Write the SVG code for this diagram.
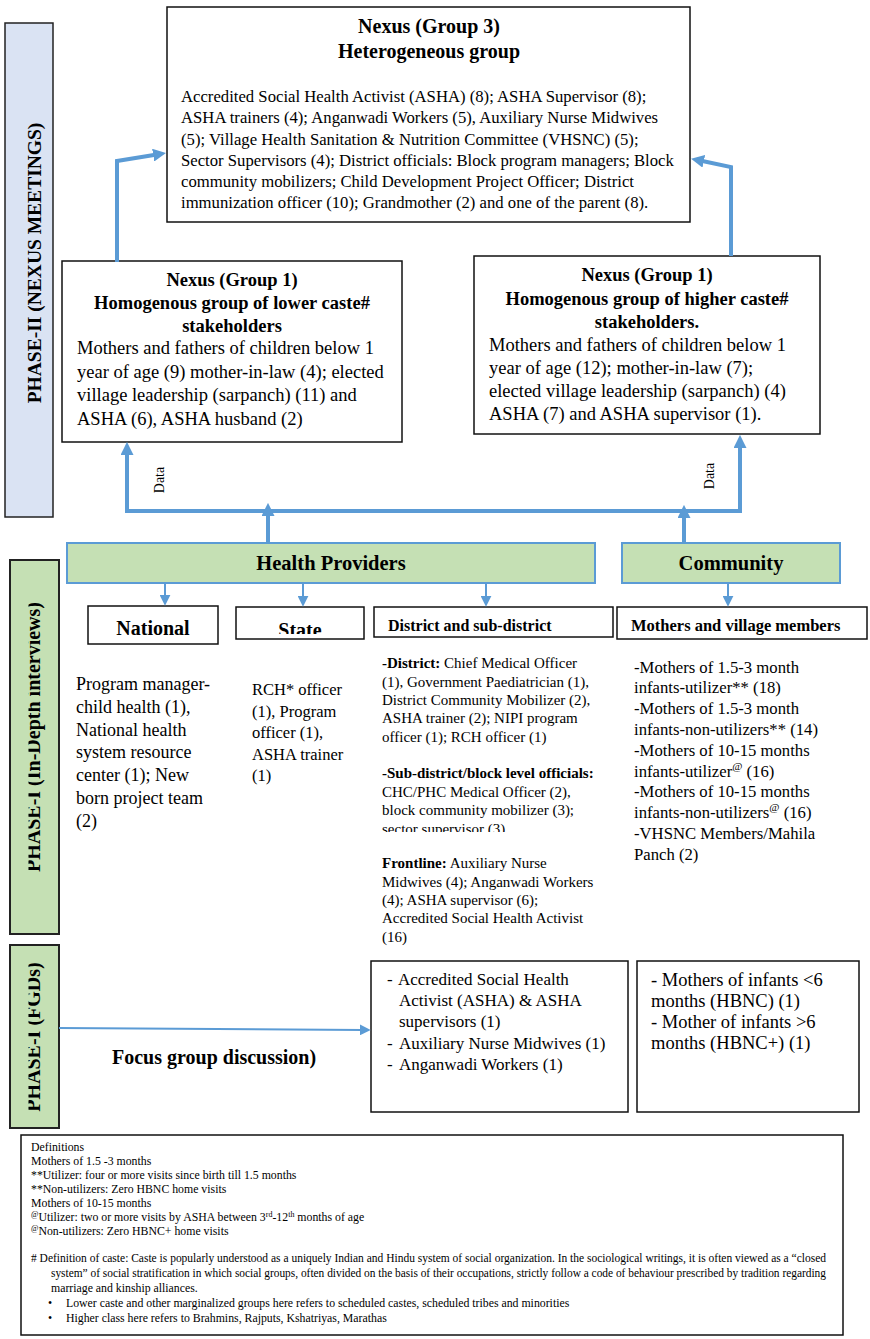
<svg xmlns="http://www.w3.org/2000/svg" width="870" height="1339" viewBox="0 0 870 1339">
<style>
.t{font-family:"Liberation Serif","Times New Roman",serif;fill:#000}
.b{font-weight:bold}
.box{fill:#fff;stroke:#111;stroke-width:1.5}
.ph2{fill:#dae3f3;stroke:#222;stroke-width:1.5}
.ph1{fill:#c5e0b4;stroke:#222;stroke-width:2}
.grn{fill:#c5e0b4;stroke:#5b9bd5;stroke-width:2}
.c{fill:none;stroke:#5b9bd5;stroke-linejoin:miter}
.thk{stroke-width:4}
.thn{stroke-width:2}
.mid{text-anchor:middle}
</style>
<defs>
<marker id="ah" viewBox="0 0 10 10" refX="3" refY="5" markerWidth="13" markerHeight="13" markerUnits="userSpaceOnUse" orient="auto-start-reverse"><path d="M0,0 L10,5 L0,10 z" fill="#5b9bd5"/></marker>
<marker id="as" viewBox="0 0 10 10" refX="3" refY="5" markerWidth="11" markerHeight="11" markerUnits="userSpaceOnUse" orient="auto-start-reverse"><path d="M0,0 L10,5 L0,10 z" fill="#5b9bd5"/></marker>
<clipPath id="clipPh1"><rect x="28.5" y="540" width="40" height="600"/></clipPath>
<clipPath id="clipState"><rect x="236" y="607" width="128" height="27"/></clipPath>
<clipPath id="clipSub"><rect x="370" y="750" width="250" height="82"/></clipPath>
</defs>

<g id="phase2-label">
<rect class="ph2" x="5" y="23" width="48" height="494"/>
<text class="t b mid" font-size="19.5" transform="translate(41,263) rotate(-90)">PHASE-II (NEXUS MEETINGS)</text>
</g>

<g id="phase1-idi-label">
<rect class="ph1" x="10" y="560" width="49" height="374"/>
<g clip-path="url(#clipPh1)"><text class="t b mid" font-size="20" transform="translate(40,737) rotate(-90)">PHASE-I (In-Depth interviews)</text></g>
</g>

<g id="phase1-fgd-label">
<rect class="ph1" x="10" y="945" width="49" height="183"/>
<g clip-path="url(#clipPh1)"><text class="t b mid" font-size="20" transform="translate(40,1037) rotate(-90)">PHASE-I (FGDs)</text></g>
</g>

<g id="nexus3">
<rect class="box" x="167" y="7" width="523" height="215"/>
<text class="t b mid" font-size="20" x="429" y="33">Nexus (Group 3)</text>
<text class="t b mid" font-size="20" x="429" y="58">Heterogeneous group</text>
<g class="t" font-size="16.7">
<text x="181" y="101.5">Accredited Social Health Activist (ASHA) (8); ASHA Supervisor (8);</text>
<text x="181" y="123">ASHA trainers (4); Anganwadi Workers (5), Auxiliary Nurse Midwives</text>
<text x="181" y="144.5">(5); Village Health Sanitation &amp; Nutrition Committee (VHSNC) (5);</text>
<text x="181" y="165.5">Sector Supervisors (4); District officials: Block program managers; Block</text>
<text x="181" y="186.5">community mobilizers; Child Development Project Officer; District</text>
<text x="181" y="207.5">immunization officer (10); Grandmother (2) and one of the parent (8).</text>
</g>
</g>

<g id="nexus1-lower">
<rect class="box" x="62" y="261" width="340" height="181"/>
<text class="t b mid" font-size="18.5" x="232" y="286">Nexus (Group 1)</text>
<text class="t b mid" font-size="18.5" x="232" y="309">Homogenous group of lower caste#</text>
<text class="t b mid" font-size="18.5" x="232" y="332">stakeholders</text>
<g class="t" font-size="18.5">
<text x="77" y="354">Mothers and fathers of children below 1</text>
<text x="77" y="378">year of age (9) mother-in-law (4); elected</text>
<text x="77" y="401">village leadership (sarpanch) (11) and</text>
<text x="77" y="425">ASHA (6), ASHA husband (2)</text>
</g>
</g>

<g id="nexus1-higher">
<rect class="box" x="474" y="256" width="346" height="178"/>
<text class="t b mid" font-size="18.5" x="647" y="281">Nexus (Group 1)</text>
<text class="t b mid" font-size="18.5" x="647" y="305">Homogenous group of higher caste#</text>
<text class="t b mid" font-size="18.5" x="647" y="328">stakeholders.</text>
<g class="t" font-size="18.5">
<text x="489" y="351">Mothers and fathers of children below 1</text>
<text x="489" y="374">year of age (12); mother-in-law (7);</text>
<text x="489" y="397">elected village leadership (sarpanch) (4)</text>
<text x="489" y="420">ASHA (7) and ASHA supervisor (1).</text>
</g>
</g>

<g id="health-providers">
<rect class="grn" x="67" y="543" width="528" height="40"/>
<text class="t b mid" font-size="20.5" x="331" y="570">Health Providers</text>
</g>

<g id="community">
<rect class="grn" x="622" y="543" width="218" height="40"/>
<text class="t b mid" font-size="20.5" x="731" y="570">Community</text>
</g>

<g id="national">
<rect class="box" x="88" y="606" width="130" height="38"/>
<text class="t b mid" font-size="20" x="153" y="635">National</text>
<g class="t" font-size="18">
<text x="76" y="690">Program manager-</text>
<text x="76" y="713">child health (1),</text>
<text x="76" y="736">National health</text>
<text x="76" y="758">system resource</text>
<text x="76" y="781">center (1); New</text>
<text x="76" y="804">born project team</text>
<text x="76" y="827">(2)</text>
</g>
</g>

<g id="state">
<rect class="box" x="236" y="607" width="128" height="32"/>
<g clip-path="url(#clipState)"><text class="t b mid" font-size="20" x="300" y="637">State</text></g>
<g class="t" font-size="16.5">
<text x="252" y="695">RCH* officer</text>
<text x="252" y="717">(1), Program</text>
<text x="252" y="738">officer (1),</text>
<text x="252" y="760">ASHA trainer</text>
<text x="252" y="781">(1)</text>
</g>
</g>

<g id="district">
<rect class="box" x="374" y="607" width="239" height="30"/>
<text class="t b" font-size="16" x="388" y="631">District and sub-district</text>
<g class="t" font-size="15">
<text x="382" y="668"><tspan font-weight="bold">-District:</tspan> Chief Medical Officer</text>
<text x="382" y="687">(1), Government Paediatrician (1),</text>
<text x="382" y="705">District Community Mobilizer (2),</text>
<text x="382" y="723">ASHA trainer (2); NIPI program</text>
<text x="382" y="742">officer (1); RCH officer (1)</text>
<g clip-path="url(#clipSub)">
<text x="382" y="778" font-weight="bold">-Sub-district/block level officials:</text>
<text x="382" y="797">CHC/PHC Medical Officer (2),</text>
<text x="382" y="815">block community mobilizer (3);</text>
<text x="382" y="834">sector supervisor (3)</text>
</g>
<text x="382" y="868"><tspan font-weight="bold">Frontline:</tspan> Auxiliary Nurse</text>
<text x="382" y="887">Midwives (4); Anganwadi Workers</text>
<text x="382" y="905">(4); ASHA supervisor (6);</text>
<text x="382" y="923">Accredited Social Health Activist</text>
<text x="382" y="942">(16)</text>
</g>
</g>

<g id="mothers">
<rect class="box" x="617" y="607" width="250" height="32"/>
<text class="t b" font-size="16.5" x="631" y="631">Mothers and village members</text>
<g class="t" font-size="16.7">
<text x="634" y="672.5">-Mothers of 1.5-3 month</text>
<text x="634" y="693.3">infants-utilizer** (18)</text>
<text x="634" y="714.1">-Mothers of 1.5-3 month</text>
<text x="634" y="734.9">infants-non-utilizers** (14)</text>
<text x="634" y="755.7">-Mothers of 10-15 months</text>
<text x="634" y="776.5">infants-utilizer<tspan font-size="11" dy="-7">@</tspan><tspan dy="7"> (16)</tspan></text>
<text x="634" y="797.3">-Mothers of 10-15 months</text>
<text x="634" y="818.1">infants-non-utilizers<tspan font-size="11" dy="-7">@</tspan><tspan dy="7"> (16)</tspan></text>
<text x="634" y="838.9">-VHSNC Members/Mahila</text>
<text x="634" y="859.7">Panch (2)</text>
</g>
</g>

<g id="fgd-label">
<text class="t b" font-size="20" x="112" y="1064">Focus group discussion)</text>
</g>

<g id="fgd-health">
<rect class="box" x="371" y="961" width="257" height="151"/>
<g class="t" font-size="17">
<text x="387" y="985">-</text><text x="398" y="985">Accredited Social Health</text>
<text x="399" y="1006">Activist (ASHA) &amp; ASHA</text>
<text x="399" y="1027">supervisors (1)</text>
<text x="387" y="1048.5">-</text><text x="399" y="1048.5">Auxiliary Nurse Midwives (1)</text>
<text x="387" y="1069.5">-</text><text x="399" y="1069.5">Anganwadi Workers (1)</text>
</g>
</g>

<g id="fgd-community">
<rect class="box" x="637" y="961" width="222" height="151"/>
<g class="t" font-size="18.5">
<text x="651" y="986">- Mothers of infants &lt;6</text>
<text x="651" y="1007">months (HBNC) (1)</text>
<text x="651" y="1028">- Mother of infants &gt;6</text>
<text x="651" y="1049">months (HBNC+) (1)</text>
</g>
</g>

<g id="definitions">
<rect class="box" x="21" y="1135" width="822" height="200"/>
<g class="t" font-size="11.8">
<text x="31" y="1151">Definitions</text>
<text x="31" y="1165">Mothers of 1.5 -3 months</text>
<text x="31" y="1179">**Utilizer: four or more visits since birth till 1.5 months</text>
<text x="31" y="1193">**Non-utilizers: Zero HBNC home visits</text>
<text x="31" y="1207">Mothers of 10-15 months</text>
<text x="31" y="1221"><tspan font-size="8" dy="-4">@</tspan><tspan dy="4">Utilizer: two or more visits by ASHA between 3</tspan><tspan font-size="8" dy="-4">rd</tspan><tspan dy="4">-12</tspan><tspan font-size="8" dy="-4">th</tspan><tspan dy="4"> months of age</tspan></text>
<text x="31" y="1235"><tspan font-size="8" dy="-4">@</tspan><tspan dy="4">Non-utilizers: Zero HBNC+ home visits</tspan></text>
<text x="31" y="1262" textLength="795" lengthAdjust="spacingAndGlyphs"># Definition of caste: Caste is popularly understood as a uniquely Indian and Hindu system of social organization. In the sociological writings, it is often viewed as a &#8220;closed</text>
<text x="51" y="1277" textLength="775" lengthAdjust="spacingAndGlyphs">system&#8221; of social stratification in which social groups, often divided on the basis of their occupations, strictly follow a code of behaviour prescribed by tradition regarding</text>
<text x="51" y="1292">marriage and kinship alliances.</text>
<text x="48" y="1307">•</text><text x="66" y="1307">Lower caste and other marginalized groups here refers to scheduled castes, scheduled tribes and minorities</text>
<text x="48" y="1322">•</text><text x="66" y="1322">Higher class here refers to Brahmins, Rajputs, Kshatriyas, Marathas</text>
</g>
</g>

<g id="connectors">
<path class="c thk" d="M117,262 V161 L157,154.5" marker-end="url(#ah)"/>
<path class="c thk" d="M731,256 V167 L700,160.5" marker-end="url(#ah)"/>
<path class="c thk" d="M127,451 V511 H740 V444" marker-start="url(#ah)" marker-end="url(#ah)"/>
<path class="c thk" d="M268,543 V512" marker-end="url(#ah)"/>
<path class="c thk" d="M684,543 V514" marker-end="url(#ah)"/>
<path class="c thn" d="M165,583 V598" marker-end="url(#as)"/>
<path class="c thn" d="M303,583 V599" marker-end="url(#as)"/>
<path class="c thn" d="M486,583 V599" marker-end="url(#as)"/>
<path class="c thn" d="M728,583 V599" marker-end="url(#as)"/>
<path class="c thn" d="M59,1028 L363,1030" marker-end="url(#as)"/>
<text class="t mid" font-size="14" transform="translate(164,480) rotate(-90)">Data</text>
<text class="t mid" font-size="14" transform="translate(714,476) rotate(-90)">Data</text>
</g>
</svg>
